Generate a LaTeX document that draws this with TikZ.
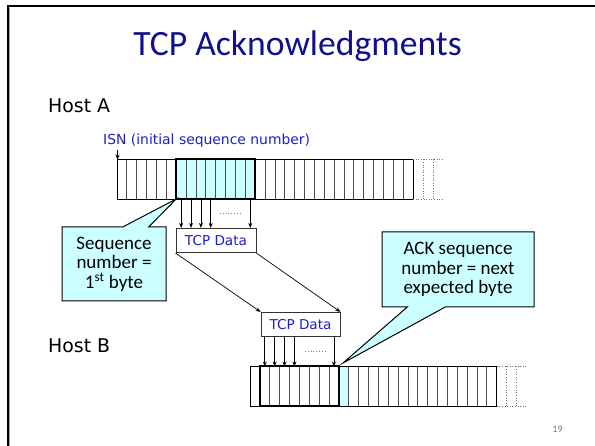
\documentclass[tikz,border=0pt]{standalone}
\usepackage{fontspec}
\setmainfont{Carlito}
\newfontfamily\comic{DejaVu Sans}
\usetikzlibrary{arrows.meta,calc}
\definecolor{titleblue}{RGB}{16,16,140}
\definecolor{txtblue}{RGB}{30,30,200}
\definecolor{lcyan}{RGB}{204,255,255}
\tikzset{
  cellline/.style={draw=black!70,line width=0.8pt},
  stripframe/.style={draw=black,line width=0.9pt},
  dotframe/.style={draw=black!55,line width=0.6pt,dotted},
  thickbox/.style={draw=black,line width=2pt},
  databox/.style={draw=black!80,line width=0.8pt,fill=white,minimum width=80pt,minimum height=24.4pt,inner sep=0pt,font=\comic\fontsize{13.6}{15}\selectfont,text=txtblue},
  arr/.style={-{Stealth[length=5pt,width=4pt]},line width=0.7pt},
  callout/.style={draw=black,line width=1pt,fill=lcyan},
  calltext/.style={align=center,font=\fontsize{19}{19.5}\selectfont,inner sep=0pt},
  hostlabel/.style={anchor=base west,inner sep=0pt,font=\comic\fontsize{18.9}{20}\selectfont},
  dotsmark/.style={draw=black!50,line width=0.8pt,dotted},
}
\begin{document}
\begin{tikzpicture}[x=1pt,y=-1pt]
\useasboundingbox (0,0) rectangle (595,446);
% slide frame
\draw[black!35,line width=1pt] (9.8,446) -- (9.8,8);
\draw[line width=2.4pt] (7.8,446) -- (7.8,6) -- (595,6);
% title
\node[anchor=base,inner sep=0pt,font=\fontsize{35.6}{38}\selectfont,text=titleblue] (title) at (297.5,56) {TCP Acknowledgments};
% host labels
\node[hostlabel] (hosta) at (48,113) {Host A};
\node[hostlabel] (hostb) at (48,353) {Host B};
% ISN label
\node[anchor=base west,inner sep=0pt,font=\comic\fontsize{13.9}{15}\selectfont,text=txtblue] (isn) at (103,145) {ISN (initial sequence number)};
% ---------- upper strip (Host A) ----------
\fill[lcyan] ({117+6*9.87},159.5) rectangle ({117+14*9.87},199);
\foreach \i in {1,...,29} \draw[cellline] ({117+\i*9.87},159.5) -- ++(0,39.5);
\draw[stripframe] (117,159.5) rectangle ({117+30*9.87},199);
\draw[dotframe] ({117+30*9.87},159.5) -- ({147+30*9.87},159.5);
\draw[dotframe] ({117+30*9.87},199) -- ({147+30*9.87},199);
\draw[dotframe] ({127+30*9.87},159.5) -- ({127+30*9.87},199);
\draw[dotframe] ({137+30*9.87},159.5) -- ({137+30*9.87},199);
\draw[thickbox] ({117+6*9.87},159.5) rectangle ({117+14*9.87},199);
\coordinate (sA) at (117.5,159.5);
\coordinate (isnpt) at (117.5,150);
\coordinate (hlA) at ({117+6*9.87},199);
\draw[arr] (isnpt) -- (sA);
% ---------- data boxes ----------
\node[databox] (d1) at (216,240.5) {TCP Data};
\node[databox,minimum width=79pt] (d2) at (300.5,324.5) {TCP Data};
\foreach \j in {0,1,2,3,7} {
  \coordinate (a\j) at ({117+(6+\j+0.5)*9.87},199);
  \draw[arr] (a\j) -- (a\j |- d1.north);
}
\draw[dotsmark] (220,213) -- (242,213);
\draw[arr] (d1.south west) -- (d2.north west);
\draw[arr] (d1.south east) -- (d2.north east);
% ---------- lower strip (Host B) ----------
\fill[lcyan] ({250+9*9.87},366.5) rectangle ({250+10*9.87},406);
\foreach \i in {1,...,24} \draw[cellline] ({250+\i*9.87},366.5) -- ++(0,39.5);
\draw[stripframe] (250,366.5) rectangle ({250+25*9.87},406);
\draw[dotframe] ({250+25*9.87},366.5) -- ({280+25*9.87},366.5);
\draw[dotframe] ({250+25*9.87},406) -- ({280+25*9.87},406);
\draw[dotframe] ({260+25*9.87},366.5) -- ({260+25*9.87},406);
\draw[dotframe] ({270+25*9.87},366.5) -- ({270+25*9.87},406);
\draw[thickbox] ({250+1*9.87},366.5) rectangle ({250+9*9.87},406);
\foreach \j in {0,1,2,3,7} {
  \coordinate (b\j) at ({250+(1+\j+0.5)*9.87},366.5);
  \draw[arr] (b\j |- d2.south) -- (b\j);
}
\draw[dotsmark] (305,351.5) -- (325,351.5);
\coordinate (nextB) at (343,363);
% ---------- callouts ----------
\draw[callout] (62,227) -- (122.7,227) -- (hlA) -- (148.7,227) -- (166,227) -- (166,301) -- (62,301) -- cycle;
\node[calltext] (c1) at (114,264) {Sequence\\number =\\1\textsuperscript{st} byte};
\draw[callout] (382,232) -- (534,232) -- (534,307) -- (445.3,307) -- (nextB) -- (407.3,307) -- (382,307) -- cycle;
\node[calltext] (c2) at (458,269.5) {ACK sequence\\number = next\\expected byte};
% page number
\node[anchor=base,inner sep=0pt,font=\fontsize{10}{10}\selectfont,text=black!55] (pg) at (557.5,433) {19};
\end{tikzpicture}
\end{document}
